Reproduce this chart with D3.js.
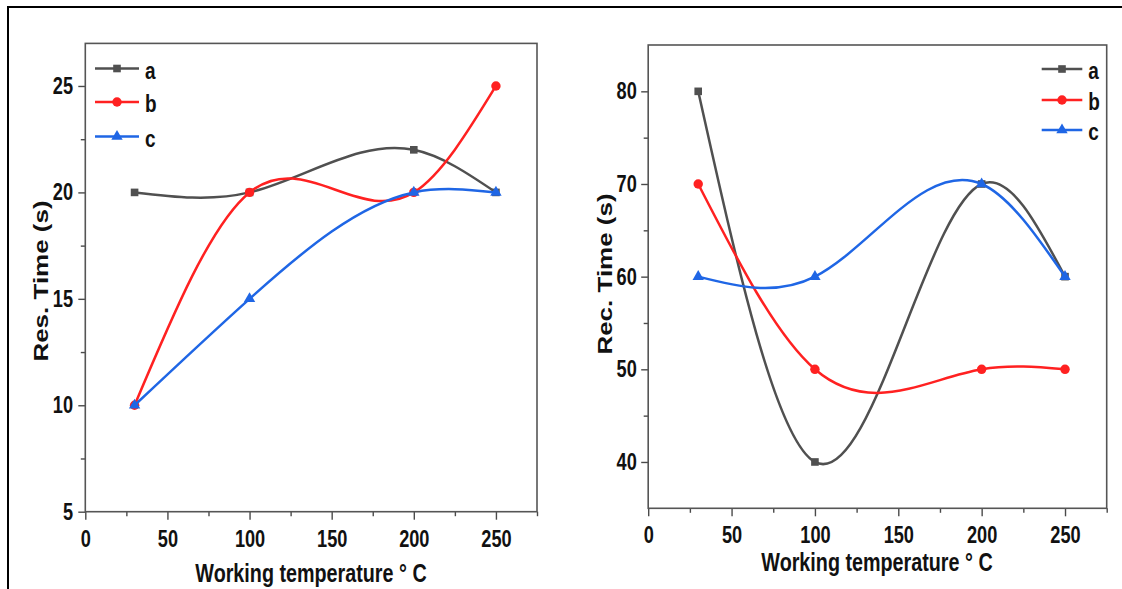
<!DOCTYPE html>
<html>
<head>
<meta charset="utf-8">
<script src="https://cdn.jsdelivr.net/npm/d3@7"></script>
<style>
  html, body { margin: 0; padding: 0; background: #fff; }
  svg { display: block; }
  text { font-family: "Liberation Sans", Arial, Helvetica, sans-serif; font-weight: bold; fill: #111; }
</style>
</head>
<body>
<svg id="chart" width="1122" height="589"></svg>
<script>
// Working temperatures (°C) shared by both panels
const temps = [30, 100, 200, 250];

// Response time (s)
const resA = [20, 20, 22, 20];
const resB = [10, 20, 20, 25];
const resC = [10, 15, 20, 20];

// Recovery time (s)
const recA = [80, 40, 70, 60];
const recB = [70, 50, 50, 50];
const recC = [60, 60, 70, 60];

const seriesNames = ["a", "b", "c"];
const xTickValues = [0, 50, 100, 150, 200, 250];
const xMinorValues = [25, 75, 125, 175, 225, 275];
const resTickValues = [5, 10, 15, 20, 25];
const resMinorValues = [7.5, 12.5, 17.5, 22.5];
const recTickValues = [40, 50, 60, 70, 80];
const recMinorValues = [45, 55, 65, 75];

const colors = { a: "#505050", b: "#ff2121", c: "#1f66e5" };
const symbols = { a: d3.symbolSquare, b: d3.symbolCircle, c: d3.symbolTriangle };
const symbolSizes = { a: 58, b: 70, c: 56 };
const SX = 0.79; // horizontal squeeze of the lettering

// Natural cubic spline of y as a function of x, emitted as exact Bézier segments
function XSpline(context) { this._context = context; }
XSpline.prototype = {
  areaStart() { this._line = 0; },
  areaEnd() { this._line = NaN; },
  lineStart() { this._x = []; this._y = []; },
  point(x, y) { this._x.push(+x); this._y.push(+y); },
  lineEnd() {
    const x = this._x, y = this._y, n = x.length, ctx = this._context;
    if (!n) return;
    ctx.moveTo(x[0], y[0]);
    if (n === 2) { ctx.lineTo(x[1], y[1]); return; }
    const h = [];
    for (let i = 0; i < n - 1; i++) h.push(x[i + 1] - x[i]);
    const M = new Array(n).fill(0);
    const m = n - 2;
    const a = [], b = [], c = [], r = [];
    for (let i = 1; i <= m; i++) {
      a.push(h[i - 1]);
      b.push(2 * (h[i - 1] + h[i]));
      c.push(h[i]);
      r.push(6 * ((y[i + 1] - y[i]) / h[i] - (y[i] - y[i - 1]) / h[i - 1]));
    }
    for (let i = 1; i < m; i++) {
      const w = a[i] / b[i - 1];
      b[i] -= w * c[i - 1];
      r[i] -= w * r[i - 1];
    }
    const sol = new Array(m);
    sol[m - 1] = r[m - 1] / b[m - 1];
    for (let i = m - 2; i >= 0; i--) sol[i] = (r[i] - c[i] * sol[i + 1]) / b[i];
    for (let i = 0; i < m; i++) M[i + 1] = sol[i];
    for (let i = 0; i < n - 1; i++) {
      const hi = h[i], dy = (y[i + 1] - y[i]) / hi;
      const s0 = dy - hi * (2 * M[i] + M[i + 1]) / 6;
      const s1 = dy + hi * (M[i] + 2 * M[i + 1]) / 6;
      ctx.bezierCurveTo(x[i] + hi / 3, y[i] + s0 * hi / 3,
                        x[i + 1] - hi / 3, y[i + 1] - s1 * hi / 3,
                        x[i + 1], y[i + 1]);
    }
  }
};
const curveXSpline = ctx => new XSpline(ctx);

const svg = d3.select("#chart");

// outer frame
svg.append("path")
  .attr("d", "M8,595 L8,7 L1130,7")
  .attr("fill", "none").attr("stroke", "#000").attr("stroke-width", 2);

function panel(opts) {
  const { left, right, top, bottom, yDomain, yTicks, yMinor, values, yTitle,
          yTitleX, yTitleY, xTitleX, xTitleY, tickPad, yLabelGap, legend } = opts;
  const x = d3.scaleLinear().domain([0, 275]).range([left, right]);
  const y = d3.scaleLinear().domain(yDomain).range([bottom, top]);
  const g = svg.append("g");

  // bottom axis: major + minor ticks
  const xAxis = g.append("g").attr("transform", `translate(0,${bottom})`)
    .call(d3.axisBottom(x).tickValues(xTickValues).tickSizeInner(8).tickSizeOuter(0).tickPadding(tickPad));
  xAxis.selectAll("text").attr("font-size", 23).attr("transform", `scale(${SX},1)`);
  g.append("g").attr("transform", `translate(0,${bottom})`)
    .call(d3.axisBottom(x).tickValues(xMinorValues).tickSizeInner(4.5).tickSizeOuter(0).tickFormat(""));

  // left axis: major + minor ticks
  const yAxis = g.append("g").attr("transform", `translate(${left},0)`)
    .call(d3.axisLeft(y).tickValues(yTicks).tickSizeInner(7).tickSizeOuter(0));
  yAxis.selectAll("text").attr("font-size", 23).attr("x", -yLabelGap / SX)
    .attr("transform", `scale(${SX},1)`);
  g.append("g").attr("transform", `translate(${left},0)`)
    .call(d3.axisLeft(y).tickValues(yMinor).tickSizeInner(4.5).tickSizeOuter(0).tickFormat(""));

  g.selectAll(".domain").remove();
  g.selectAll(".tick line").attr("stroke", "#4a4a4a").attr("stroke-width", 1.4);
  g.selectAll("text").attr("font-family", null).attr("fill", "#111");

  // plot frame
  g.append("rect")
    .attr("x", left).attr("y", top)
    .attr("width", right - left).attr("height", bottom - top)
    .attr("fill", "none").attr("stroke", "#555").attr("stroke-width", 1.6);

  const line = d3.line().x((d, i) => x(temps[i])).y(d => y(d)).curve(curveXSpline);

  seriesNames.forEach((name, k) => {
    const vals = values[k];
    g.append("path")
      .attr("d", line(vals))
      .attr("fill", "none")
      .attr("stroke", colors[name])
      .attr("stroke-width", 2.5);
    g.selectAll(null).data(vals).enter().append("path")
      .attr("d", d3.symbol(symbols[name], symbolSizes[name]))
      .attr("transform", (d, i) => `translate(${x(temps[i])},${y(d)})`)
      .attr("fill", colors[name]);
  });

  // legend
  seriesNames.forEach((name, k) => {
    const ly = legend.rows[k];
    const lg = g.append("g");
    lg.append("line")
      .attr("x1", legend.x0).attr("x2", legend.x1)
      .attr("y1", ly).attr("y2", ly)
      .attr("stroke", colors[name]).attr("stroke-width", 2.5);
    lg.append("path")
      .attr("d", d3.symbol(symbols[name], symbolSizes[name]))
      .attr("transform", `translate(${(legend.x0 + legend.x1) / 2},${ly})`)
      .attr("fill", colors[name]);
    lg.append("text")
      .attr("transform", `translate(${legend.tx},${ly + 10}) scale(${SX},1)`)
      .attr("font-size", 24)
      .text(name);
  });

  // axis titles
  g.append("text")
    .attr("transform", `translate(${xTitleX},${xTitleY}) scale(${SX},1)`)
    .attr("text-anchor", "middle")
    .attr("font-size", 25)
    .text("Working temperature ° C");
  g.append("text")
    .attr("transform", `translate(${yTitleX},${yTitleY}) scale(${SX},1) rotate(-90)`)
    .attr("text-anchor", "middle")
    .attr("font-size", 26)
    .text(yTitle);
}

panel({
  left: 85.3, right: 537, top: 43.4, bottom: 511.7,
  yDomain: [5, 27], yTicks: resTickValues, yMinor: resMinorValues,
  values: [resA, resB, resC], yTitle: "Res. Time (s)",
  yTitleX: 48, yTitleY: 281, xTitleX: 311, xTitleY: 582,
  tickPad: 11, yLabelGap: 12.3,
  legend: { x0: 95, x1: 139, tx: 145, rows: [68.5, 102, 136.5] }
});

panel({
  left: 648.2, right: 1106.7, top: 45, bottom: 508.3,
  yDomain: [35, 85], yTicks: recTickValues, yMinor: recMinorValues,
  values: [recA, recB, recC], yTitle: "Rec. Time (s)",
  yTitleX: 612, yTitleY: 274, xTitleX: 877, xTitleY: 571,
  tickPad: 10, yLabelGap: 11.4,
  legend: { x0: 1041.7, x1: 1082.3, tx: 1088.3, rows: [69, 100, 130] }
});
</script>
</body>
</html>
